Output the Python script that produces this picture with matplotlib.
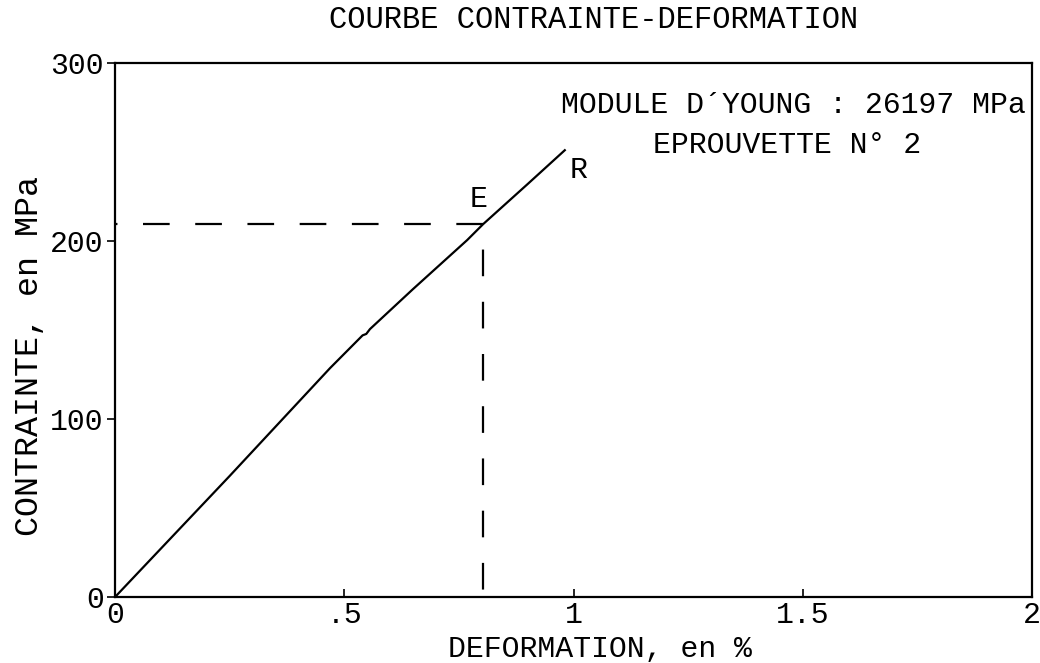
import numpy as np
import matplotlib.pyplot as plt

# valeurs (deformation en %, contrainte en MPa)
deformation = [0.0, 0.25, 0.469, 0.540, 0.548, 0.556, 0.65, 0.768, 0.803, 0.90, 0.981]
contrainte = [0, 68, 128.6, 147, 147.8, 150.5, 173, 200.5, 209.5, 232, 251]

# point E (limite elastique) et rupture R
e_def, e_cont = 0.803, 209.5
r_def, r_cont = 0.981, 251

xticks = [0, 0.5, 1, 1.5, 2]
xlabels = ["0", ".5", "1", "1.5", "2"]
yticks = [0, 100, 200, 300]
ylabels = ["0", "100", "200", "300"]

font = "Liberation Mono"
fs = 21.5

fig = plt.figure(figsize=(10.4, 6.63), dpi=100)
ax = fig.add_axes([0.1106, 0.0995, 0.8817, 0.8055])

ax.plot(deformation, contrainte, color="black", lw=1.6)
# lignes en tirets vers E (tracees depuis E)
ax.plot([e_def, 0], [e_cont, e_cont], color="black", lw=1.6, dashes=(12, 11.5))
ax.plot([e_def, e_def], [e_cont, 0], color="black", lw=1.6,
        linestyle=(12, (12, 11.5)))

ax.set_xlim(0, 2)
ax.set_ylim(0, 300)
ax.set_xticks(xticks)
ax.set_xticklabels(xlabels, family=font, fontsize=fs)
ax.set_yticks(yticks)
ax.set_yticklabels(ylabels, family=font, fontsize=fs)
ax.tick_params(axis="x", direction="in", length=6, width=1.2, pad=3)
ax.tick_params(axis="y", direction="out", length=6, width=1.2, pad=2)
for s in ax.spines.values():
    s.set_linewidth(1.6)

ax.text(e_def - 0.01, e_cont + 6, "E", family=font, fontsize=fs, ha="center", va="bottom")
ax.text(r_def + 0.01, r_cont - 11, "R", family=font, fontsize=fs, ha="left", va="center")

ax.text(1.986, 276.5, "MODULE D\u00b4YOUNG : 26197 MPa", family=font, fontsize=fs,
        ha="right", va="center")
ax.text(1.466, 254, "EPROUVETTE N\u00b0 2", family=font, fontsize=fs,
        ha="center", va="center")

fig.text(0.571, 0.97, "COURBE CONTRAINTE-DEFORMATION", family=font, fontsize=22,
         ha="center", va="center")
ax.set_xlabel("DEFORMATION, en %", family=font, fontsize=fs, va="center")
ax.xaxis.set_label_coords(0.529, -0.097)
ax.set_ylabel("CONTRAINTE, en MPa", family=font, fontsize=24, va="center")
ax.yaxis.set_label_coords(-0.093, 0.451)

fig.savefig("out.png", dpi=100)
